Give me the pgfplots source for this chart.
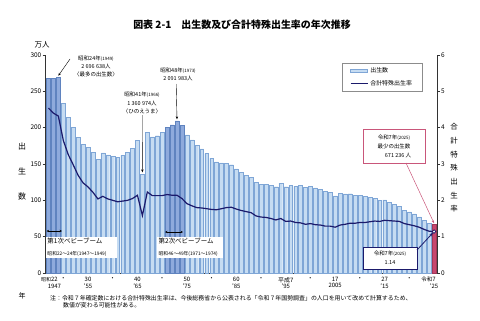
\documentclass[border=0pt]{standalone}
\usepackage{fontspec}
\setmainfont{Noto Sans CJK JP}
\usepackage{pgfplots}
\pgfplotsset{compat=1.18}
\usetikzlibrary{arrows.meta}
\definecolor{barfill}{HTML}{C6DCF2}
\definecolor{baredge}{HTML}{7FA6D6}
\definecolor{boomfill}{HTML}{8EAADC}
\definecolor{boomedge}{HTML}{5F83BF}
\definecolor{redbar}{HTML}{C8466E}
\definecolor{redbox}{HTML}{C9567A}
\definecolor{navy}{HTML}{1B1A6B}
\begin{document}
\begin{tikzpicture}[x=1bp,y=1bp]
\path[use as bounding box] (0,0) rectangle (480,320);
\begin{axis}[at={(45.5bp,47bp)}, anchor=south west, width=391.5bp, height=218bp, scale only axis,
  xmin=1946.4, xmax=2025.6, ymin=0, ymax=300,
  axis y line*=left, axis x line*=bottom,
  axis line style={line width=0.6bp, black!80},
  ytick={0,50,...,300},
  tick align=outside, major tick length=3bp,
  ytick style={line width=0.5bp, black!80},
  xtick style={draw=none},
  xtick={1948.2,1950,1955,1960,1965,1970,1975,1980,1985,1990,1995,2000,2005,2010,2015,2020,2025},
  xticklabels={{\llap{\fontsize{5}{5}\selectfont 昭和}22\\1947},・,{30\\’55},・,{40\\’65},・,{50\\’75},・,{60\\’85},・,{平成7\\’95},・,{17\\2005},・,{27\\’15},・,{\llap{\fontsize{5.5}{5.5}\selectfont 令和}7\\’25}},
  xticklabel style={font=\fontsize{6}{6.5}\selectfont, align=center, inner sep=1bp},
  yticklabel style={font=\fontsize{6.5}{7}\selectfont, inner sep=1bp},
  /pgf/number format/assume math mode=true,
  clip=false]
\addplot[ybar, bar width=0.78, bar shift=0pt, fill=barfill, draw=baredge, line width=0.3bp] coordinates {
(1950,233.8)(1951,213.8)(1952,200.5)(1953,186.8)(1954,177.0)(1955,173.1)(1956,166.5)(1957,156.7)(1958,165.3)(1959,162.6)
(1960,160.6)(1961,158.9)(1962,161.9)(1963,166.0)(1964,171.7)(1965,182.4)(1966,136.1)(1967,193.6)(1968,187.2)(1969,189.0)
(1970,193.4)
(1975,190.1)(1976,183.3)(1977,175.5)(1978,170.9)(1979,164.3)(1980,157.7)(1981,152.9)(1982,151.5)(1983,150.9)(1984,149.0)
(1985,143.2)(1986,138.3)(1987,134.7)(1988,131.4)(1989,124.7)(1990,122.2)(1991,122.3)(1992,120.9)(1993,118.8)(1994,123.8)
(1995,118.7)(1996,120.7)(1997,119.2)(1998,120.3)(1999,117.8)(2000,119.1)(2001,117.1)(2002,115.4)(2003,112.4)(2004,111.1)
(2005,106.3)(2006,109.3)(2007,109.0)(2008,109.1)(2009,107.0)(2010,107.1)(2011,105.1)(2012,103.7)(2013,103.0)(2014,100.4)
(2015,100.6)(2016,97.7)(2017,94.6)(2018,91.8)(2019,86.5)(2020,84.1)(2021,81.2)(2022,77.1)(2023,72.7)(2024,68.6)};
\addplot[ybar, bar width=0.78, bar shift=0pt, fill=boomfill, draw=boomedge, line width=0.3bp] coordinates {
(1947,267.9)(1948,268.2)(1949,269.7)(1971,200.1)(1972,203.9)(1973,209.2)(1974,203.0)};
\addplot[ybar, bar width=0.78, bar shift=0pt, fill=redbar, draw=redbar!80!black, line width=0.3bp] coordinates {(2025,67.1)};
\coordinate (b1949) at (axis cs:1949,271.5);
\coordinate (b1966) at (axis cs:1966,138.5);
\coordinate (b1973) at (axis cs:1973,211.5);
\coordinate (b2025) at (axis cs:2025,68.5);
\end{axis}
\begin{axis}[at={(45.5bp,47bp)}, anchor=south west, width=391.5bp, height=218bp, scale only axis,
  xmin=1946.4, xmax=2025.6, ymin=0, ymax=6,
  axis y line*=right, axis x line=none,
  axis line style={line width=0.6bp, black!80},
  ytick={0,1,...,6},
  tick align=outside, major tick length=3bp,
  ytick style={line width=0.5bp, black!80},
  yticklabel style={font=\fontsize{6.5}{7}\selectfont, inner sep=1bp},
  /pgf/number format/assume math mode=true,
  legend style={at={(0.757,0.963)}, anchor=north west, draw=black!45, line width=0.4bp,
    font=\fontsize{6}{7}\selectfont, inner xsep=8bp, inner ysep=2.5bp, row sep=2bp},
  legend cell align=left,
  clip=false]
\addlegendimage{legend image code/.code={\draw[fill=barfill, draw=baredge, line width=0.4bp] (0bp,-1.5bp) rectangle (17bp,1.5bp);}}
\addlegendentry{出生数}
\addplot[navy, line width=1.2bp, mark=none] coordinates {
(1947,4.54)(1948,4.40)(1949,4.32)(1950,3.65)(1951,3.26)(1952,2.98)(1953,2.69)(1954,2.48)(1955,2.37)(1956,2.22)
(1957,2.04)(1958,2.11)(1959,2.04)(1960,2.00)(1961,1.96)(1962,1.98)(1963,2.00)(1964,2.05)(1965,2.14)(1966,1.58)
(1967,2.23)(1968,2.13)(1969,2.13)(1970,2.13)(1971,2.16)(1972,2.14)(1973,2.14)(1974,2.05)(1975,1.91)(1976,1.85)
(1977,1.80)(1978,1.79)(1979,1.77)(1980,1.75)(1981,1.74)(1982,1.77)(1983,1.80)(1984,1.81)(1985,1.76)(1986,1.72)
(1987,1.69)(1988,1.66)(1989,1.57)(1990,1.54)(1991,1.53)(1992,1.50)(1993,1.46)(1994,1.50)(1995,1.42)(1996,1.43)
(1997,1.39)(1998,1.38)(1999,1.34)(2000,1.36)(2001,1.33)(2002,1.32)(2003,1.29)(2004,1.29)(2005,1.26)(2006,1.32)
(2007,1.34)(2008,1.37)(2009,1.37)(2010,1.39)(2011,1.39)(2012,1.41)(2013,1.43)(2014,1.42)(2015,1.45)(2016,1.44)
(2017,1.43)(2018,1.42)(2019,1.36)(2020,1.33)(2021,1.30)(2022,1.26)(2023,1.20)(2024,1.15)(2025,1.14)};
\addlegendentry{合計特殊出生率}
\addplot[forget plot, only marks, mark=*, mark size=1.8bp, mark options={fill=white, draw=navy, line width=0.7bp}] coordinates {(2025,1.14)};
\coordinate (t2025) at (axis cs:2025,1.14);
\end{axis}
% title and axis labels
\node[font=\bfseries\fontsize{10}{10}\selectfont] at (242,295) {図表 2-1\quad 出生数及び合計特殊出生率の年次推移};
\node[font=\fontsize{7.5}{8}\selectfont] at (42,275) {万人};
\node[font=\fontsize{8}{8}\selectfont] at (22,174) {出};
\node[font=\fontsize{8}{8}\selectfont] at (22,149) {生};
\node[font=\fontsize{8}{8}\selectfont] at (22,124) {数};
\node[font=\fontsize{7.5}{13.7}\selectfont, align=center] at (454,152) {合\\計\\特\\殊\\出\\生\\率};
\node[font=\fontsize{7}{7}\selectfont] at (22,24) {年};
% annotations
\node[font=\fontsize{5.5}{8}\selectfont, align=center] at (96,254) {昭和24年{\fontsize{4.5}{5}\selectfont (1949)}\\2 696 638人\\〈最多の出生数〉};
\draw[-{Stealth[length=3bp,width=2.4bp]}, line width=0.4bp] (70,261) -- (b1949);
\node[font=\fontsize{5.5}{8.5}\selectfont, align=center] at (142,217) {昭和41年{\fontsize{4.5}{5}\selectfont (1966)}\\1 360 974人\\〈ひのえうま〉};
\draw[-{Stealth[length=3bp,width=2.4bp]}, line width=0.4bp] (142.5,205) -- (b1966);
\node[font=\fontsize{5.5}{8}\selectfont, align=center] at (178,246) {昭和48年{\fontsize{4.5}{5}\selectfont (1973)}\\2 091 983人};
\draw[-{Stealth[length=3bp,width=2.4bp]}, line width=0.4bp] (176.2,236) -- (b1973);
\node[draw=redbox, line width=0.8bp, fill=white, minimum width=62bp, minimum height=34bp, align=center, font=\fontsize{5.5}{9}\selectfont] at (394,174) {令和7年{\fontsize{4.5}{5}\selectfont (2025)}\\最少の出生数\\\hspace*{8bp}671 236 人};
\draw[redbox, line width=0.5bp, -{Stealth[length=3bp,width=2.4bp]}] (406,157) -- (b2025);
\node[draw=navy, line width=1bp, fill=white, minimum width=54bp, minimum height=22bp, align=center, font=\fontsize{5.5}{9}\selectfont] at (390,62) {令和7年{\fontsize{4.5}{5}\selectfont (2025)}\\1.14};
\draw[navy, line width=0.8bp, -{Stealth[length=3.5bp,width=3bp]}, shorten >=1.8bp] (417,70) -- (t2025);
\node[fill=white, anchor=west, align=left, inner sep=1.5bp, text width=68bp, minimum height=19bp] at (45.8,72.5) {{\fontsize{6.5}{8}\selectfont 第1次ベビーブーム}\\{\fontsize{4.8}{7}\selectfont 昭和22～24年(1947～1949)}};
\draw[{Stealth[length=2.5bp,width=2.4bp]}-{Stealth[length=2.5bp,width=2.4bp]}, line width=0.6bp] (46.5,89) -- (62,89);
\node[fill=white, anchor=west, align=left, inner sep=1.5bp, text width=63bp, minimum height=17bp] at (157,72.5) {{\fontsize{6.5}{8}\selectfont 第2次ベビーブーム}\\{\fontsize{4.8}{7}\selectfont 昭和46～49年(1971～1974)}};
\draw[{Stealth[length=2.5bp,width=2.4bp]}-{Stealth[length=2.5bp,width=2.4bp]}, line width=0.6bp] (165,88) -- (183,88);
% note
\node[anchor=west, font=\fontsize{5.95}{6}\selectfont, inner sep=0] at (50,22) {注：令和７年確定数における合計特殊出生率は、今後総務省から公表される「令和７年国勢調査」の人口を用いて改めて計算するため、};
\node[anchor=west, font=\fontsize{5.95}{6}\selectfont, inner sep=0] at (63,15) {数値が変わる可能性がある。};
\end{tikzpicture}
\end{document}
